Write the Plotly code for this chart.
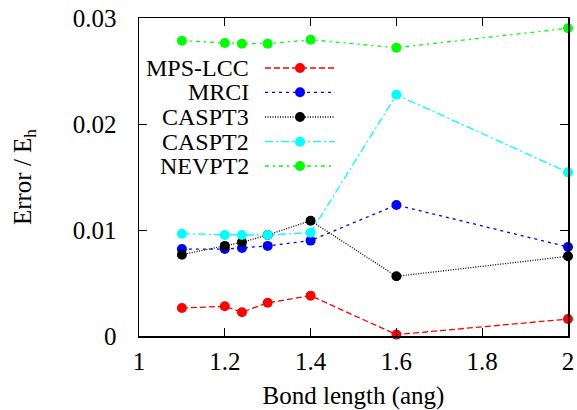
import plotly.graph_objects as go

bond_length = [1.1, 1.2, 1.24, 1.3, 1.4, 1.6, 2.0]
series_names = ["MPS-LCC", "MRCI", "CASPT3", "CASPT2", "NEVPT2"]
mps_lcc = [0.00264, 0.0028, 0.00224, 0.00314, 0.0038, 0.00013, 0.0016]
mrci = [0.0082, 0.0082, 0.0083, 0.0085, 0.0090, 0.01236, 0.0084]
caspt3 = [0.00767, 0.0085, 0.00884, 0.00953, 0.01088, 0.00563, 0.00752]
caspt2 = [0.00965, 0.00953, 0.00953, 0.00953, 0.00975, 0.02276, 0.01544]
nevpt2 = [0.02786, 0.02764, 0.02758, 0.02758, 0.02795, 0.0272, 0.02903]
x_ticks = [1, 1.2, 1.4, 1.6, 1.8, 2]
y_ticks = [0, 0.01, 0.02, 0.03]

values = [mps_lcc, mrci, caspt3, caspt2, nevpt2]
colors = ["#ff0000", "#0000ff", "#000000", "#00ffff", "#00ff00"]
dashes = ["6px,3px", "3px,4px", "1px,1.5px", "8px,3px,2px,3px", "4px,4px,2px,4px"]

FONT = "Liberation Serif"
FS = 25
fig = go.Figure()
for name, ys, c, d in zip(series_names, values, colors, dashes):
    fig.add_trace(go.Scatter(
        x=bond_length, y=ys, name=name, mode="lines+markers",
        line=dict(color=c, width=1.3, dash=d),
        marker=dict(color=c, size=10),
        cliponaxis=False, showlegend=False, hoverinfo="skip",
    ))

# manual legend (text on the left, sample on the right)
leg_y = [0.8428, 0.7663, 0.6887, 0.6110, 0.5346]
for name, c, d, yy in zip(series_names, colors, dashes, leg_y):
    fig.add_annotation(x=0.2587, y=yy, xref="paper", yref="paper", text=name,
                       showarrow=False, xanchor="right", yanchor="middle",
                       height=24, valign="middle", borderpad=0,
                       font=dict(family=FONT, size=24, color="black"))
    fig.add_shape(type="line", xref="paper", yref="paper", x0=0.2937, x1=0.4569,
                  y0=yy, y1=yy, line=dict(color=c, width=1.3, dash=d))
    fig.add_shape(type="circle", xref="paper", yref="paper", xsizemode="pixel",
                  ysizemode="pixel", xanchor=0.3753, yanchor=yy,
                  x0=-5, x1=5, y0=-5, y1=5, fillcolor=c, line=dict(color=c, width=0))

fig.update_layout(
    width=577, height=410,
    margin=dict(l=139, r=9, t=18, b=74),
    plot_bgcolor="white", paper_bgcolor="white",
    font=dict(family=FONT, size=FS, color="black"),
    xaxis=dict(range=[1, 2], tickvals=x_ticks, ticktext=[str(v) for v in x_ticks],
               ticks="inside", ticklen=8, tickwidth=1, tickcolor="black",
               showline=True, linecolor="black", linewidth=1.5, mirror="ticks",
               showgrid=False, zeroline=False, ticklabelstandoff=2, automargin=False,
               tickfont=dict(family=FONT, size=FS),
               title=dict(text="Bond length (ang)", standoff=22,
                          font=dict(family=FONT, size=FS))),
    yaxis=dict(range=[0, 0.03], tickvals=y_ticks, ticktext=["0", "0.01", "0.02", "0.03"],
               ticks="inside", ticklen=8, tickwidth=1, tickcolor="black",
               showline=True, linecolor="black", linewidth=1.5, mirror="ticks",
               showgrid=False, zeroline=False, ticklabelstandoff=16, automargin=False,
               tickfont=dict(family=FONT, size=FS),
               title=dict(text="Error / E<sub>h</sub>", standoff=34,
                          font=dict(family=FONT, size=FS))),
)
fig.write_html("out.html", config={"displayModeBar": False, "staticPlot": True},
               post_script="document.body.style.margin='0';")
